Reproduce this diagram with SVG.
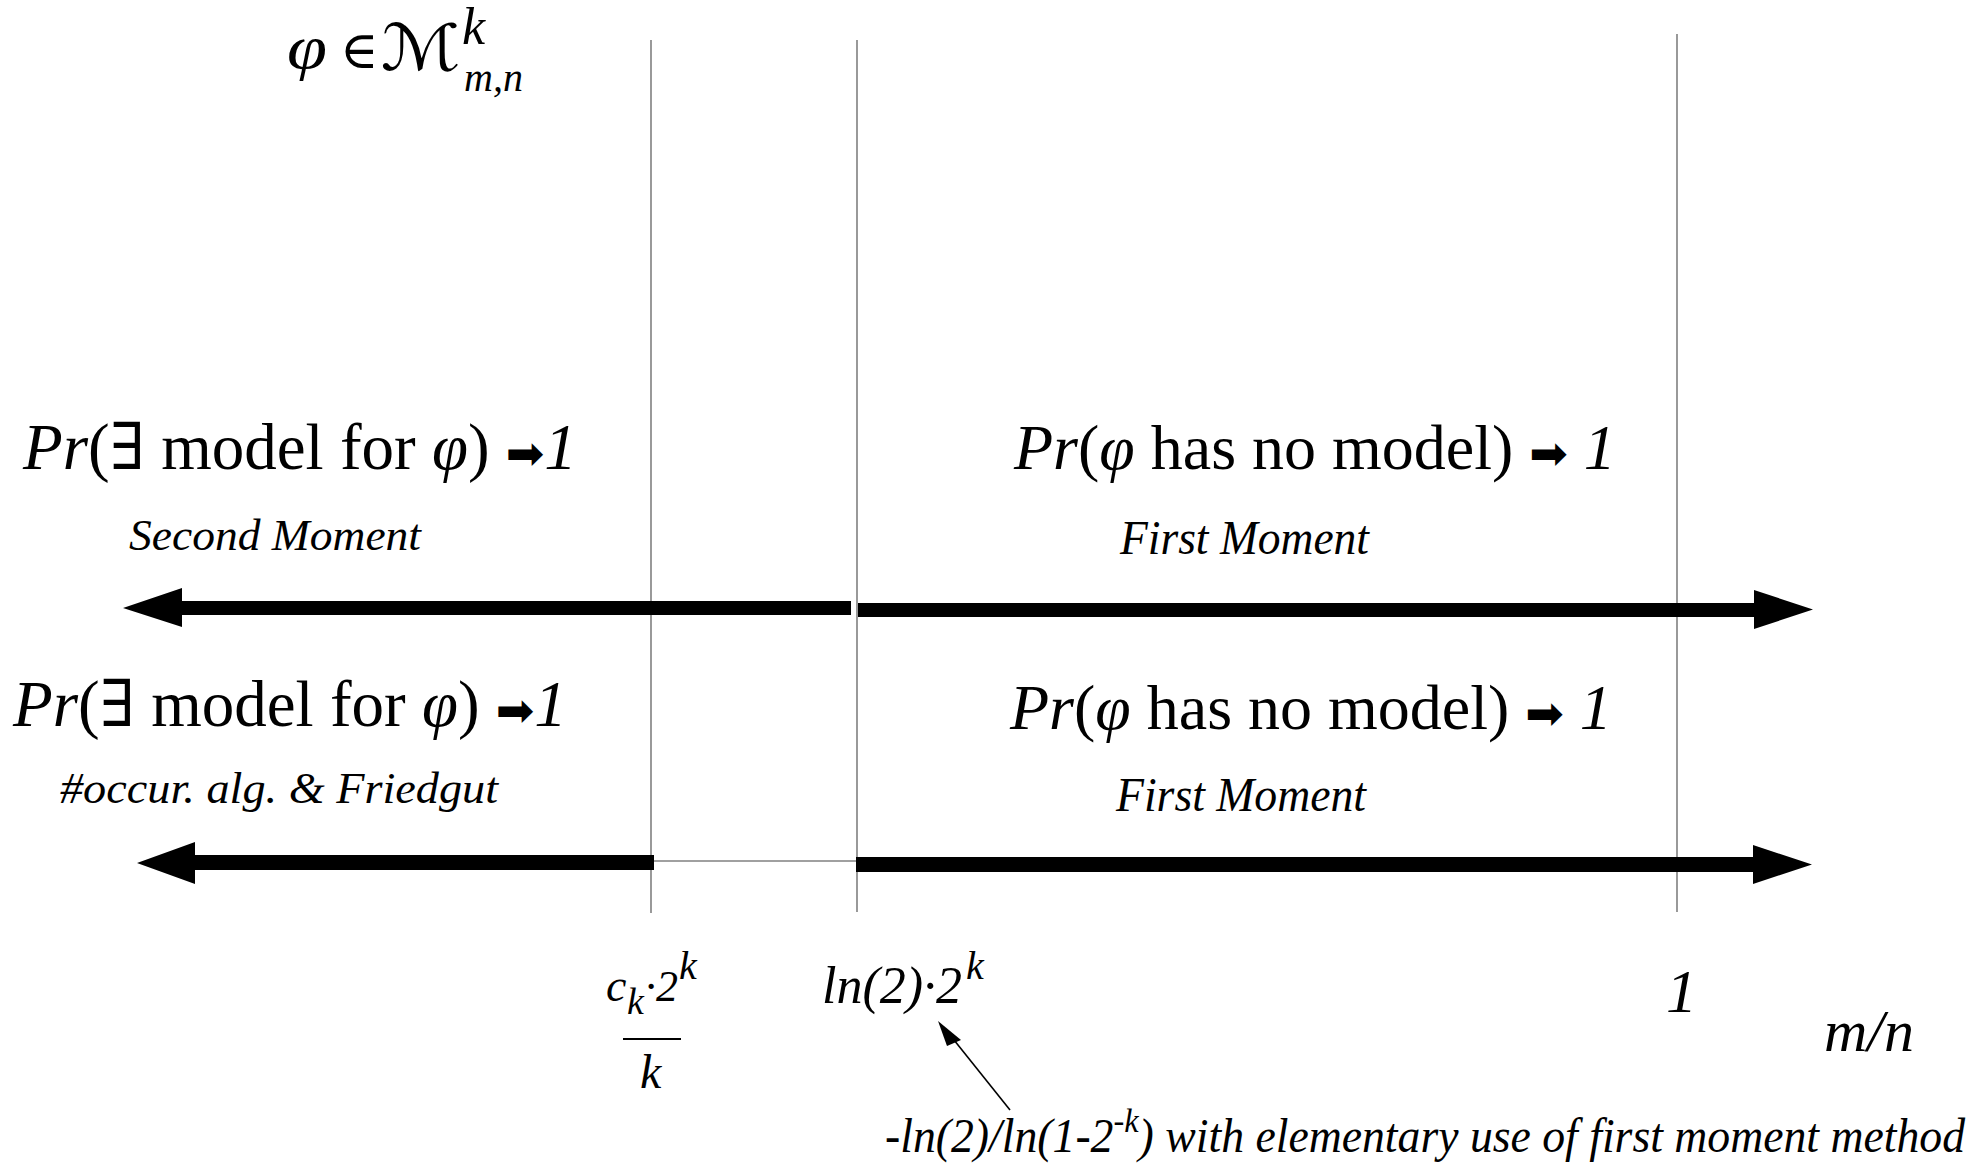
<svg xmlns="http://www.w3.org/2000/svg" width="1988" height="1168" viewBox="0 0 1988 1168">
<style>
text{font-family:"Liberation Serif","DejaVu Serif","DejaVu Sans",serif;fill:#000}
.it{font-style:italic}
.big{font-size:65px}
.bigr{font-size:64px}
.mid{font-size:44px;font-style:italic}
.arr{font-family:"DejaVu Sans",sans-serif;font-size:46px;font-style:normal}
.vline{stroke:#808080;stroke-width:1.6;fill:none}
.bar{fill:#000;stroke:none}
</style>
<rect width="1988" height="1168" fill="#fff"/>
<g id="axes">
<line class="vline" x1="651" y1="40" x2="651" y2="913"/>
<line class="vline" x1="857" y1="40" x2="857" y2="912"/>
<line class="vline" x1="1677" y1="34" x2="1677" y2="912"/>
</g>
<g id="connectors">
<polygon class="bar" points="123,608 182,588 182,601 851,601 851,615 182,615 182,627"/>
<polygon class="bar" points="858,603 1754,603 1754,590 1813,609.5 1754,629 1754,617 858,617"/>
<polygon class="bar" points="137,863 195,842 195,855 654,855 654,870 195,870 195,884"/>
<line x1="654" y1="861" x2="857" y2="861" stroke="#808080" stroke-width="1.6"/>
<polygon class="bar" points="856,857 1753,857 1753,845 1812,864.5 1753,884 1753,872 856,872"/>
<line x1="1010" y1="1110" x2="950" y2="1035" stroke="#000" stroke-width="1.6"/>
<polygon class="bar" points="938,1021 961,1040 947,1046"/>
</g>
<g id="title">
<text x="287" y="68" class="it" font-size="62" textLength="40" lengthAdjust="spacingAndGlyphs">φ</text>
<text x="340" y="68" font-size="52">∈</text>
<text x="381" y="70" class="it" font-size="64" textLength="80" lengthAdjust="spacingAndGlyphs">ℳ</text>
<text x="462" y="44" class="it" font-size="52">k</text>
<text x="464" y="91" class="it" font-size="40">m,n</text>
</g>
<g id="row1-left">
<text x="23" y="469" class="big"><tspan class="it">Pr</tspan>(∃ model for <tspan class="it">φ</tspan>) <tspan class="arr">➡</tspan><tspan class="it">1</tspan></text>
<text x="129" y="550" class="mid" textLength="292" lengthAdjust="spacingAndGlyphs">Second Moment</text>
</g>
<g id="row1-right">
<text x="1014" y="469" class="bigr"><tspan class="it">Pr</tspan>(<tspan class="it">φ</tspan> has no model) <tspan class="arr">➡</tspan> <tspan class="it">1</tspan></text>
<text x="1120" y="554" class="mid" style="font-size:48px" textLength="249" lengthAdjust="spacingAndGlyphs">First Moment</text>
</g>
<g id="row2-left">
<text x="13" y="726" class="big"><tspan class="it">Pr</tspan>(∃ model for <tspan class="it">φ</tspan>) <tspan class="arr">➡</tspan><tspan class="it">1</tspan></text>
<text x="60" y="803" class="mid" textLength="438" lengthAdjust="spacingAndGlyphs">#occur. alg. &amp; Friedgut</text>
</g>
<g id="row2-right">
<text x="1010" y="729" class="bigr"><tspan class="it">Pr</tspan>(<tspan class="it">φ</tspan> has no model) <tspan class="arr">➡</tspan> <tspan class="it">1</tspan></text>
<text x="1116" y="811" class="mid" style="font-size:48px" textLength="250" lengthAdjust="spacingAndGlyphs">First Moment</text>
</g>
<g id="tick-ck">
<text x="606" y="1001" class="it" font-size="46">c</text>
<text x="627" y="1014" class="it" font-size="38">k</text>
<text x="645" y="1001" class="it" font-size="44">·2</text>
<text x="679" y="979" class="it" font-size="40">k</text>
<line x1="623" y1="1039" x2="681" y2="1039" stroke="#000" stroke-width="2"/>
<text x="640" y="1088" class="it" font-size="48">k</text>
</g>
<g id="tick-ln2">
<text x="822" y="1003" class="it" font-size="52">ln(2)·2</text>
<text x="966" y="979" class="it" font-size="40">k</text>
</g>
<g id="tick-1">
<text x="1666" y="1012" class="it" font-size="62">1</text>
</g>
<g id="axis-label">
<text x="1824" y="1051" class="it" font-size="60">m/n</text>
</g>
<g id="note">
<text x="885" y="1152" class="mid" style="font-size:48px" textLength="1080" lengthAdjust="spacingAndGlyphs">-ln(2)/ln(1-2<tspan dy="-20" font-size="34">-k</tspan><tspan dy="20">) with elementary use of first moment method</tspan></text>
</g>
</svg>
